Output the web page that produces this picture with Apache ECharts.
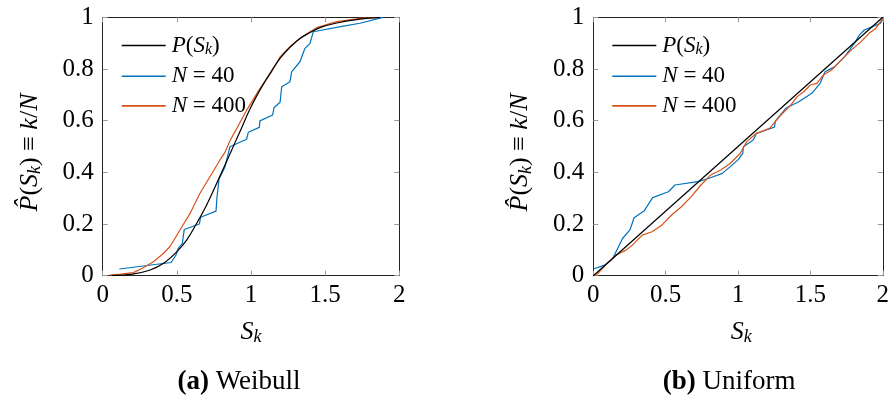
<!DOCTYPE html>
<html>
<head>
<meta charset="utf-8">
<script src="https://cdn.jsdelivr.net/npm/echarts@6/dist/echarts.min.js"></script>
<style>
html,body{margin:0;padding:0;background:#fff;}
#c{width:892px;height:403px;}
</style>
</head>
<body>
<div id="c"></div>
<script>
// ---- data ----
const xTicks = [0, 0.5, 1, 1.5, 2];
const yTicks = [0, 0.2, 0.4, 0.6, 0.8, 1];
const seriesNames = ['P(S_k)', 'N = 40', 'N = 400'];
const captions = ['(a)|Weibull', '(b)|Uniform'];

// (a) Weibull
const weibullP = [[0.06,0],[0.2,0.006],[0.32,0.022],[0.41,0.048],[0.5,0.093],[0.566,0.138],[0.634,0.203],[0.70,0.273],[0.768,0.357],[0.836,0.443],[0.892,0.515],[0.926,0.558],[0.993,0.645],[1.061,0.719],[1.128,0.783],[1.196,0.841],[1.263,0.884],[1.33,0.918],[1.398,0.941],[1.465,0.96],[1.578,0.978],[1.735,0.993],[1.87,1.0]];
const weibull40 = [[0.112,0.026],[0.461,0.051],[0.494,0.08],[0.51,0.106],[0.537,0.125],[0.543,0.151],[0.55,0.179],[0.652,0.2],[0.66,0.226],[0.764,0.25],[0.770,0.30],[0.784,0.373],[0.825,0.422],[0.858,0.499],[0.97,0.528],[0.982,0.555],[1.056,0.574],[1.06,0.599],[1.146,0.622],[1.155,0.65],[1.196,0.671],[1.207,0.731],[1.263,0.751],[1.274,0.789],[1.33,0.828],[1.364,0.88],[1.398,0.899],[1.42,0.944],[1.432,0.948],[1.623,0.966],[1.735,0.977],[1.89,1.0]];
const weibull400 = [[0.05,0.002],[0.12,0.006],[0.207,0.012],[0.274,0.031],[0.342,0.054],[0.409,0.086],[0.454,0.113],[0.521,0.177],[0.589,0.241],[0.656,0.319],[0.723,0.383],[0.791,0.448],[0.825,0.478],[0.858,0.522],[0.904,0.57],[0.971,0.641],[1.061,0.725],[1.14,0.79],[1.196,0.847],[1.263,0.886],[1.33,0.918],[1.398,0.944],[1.443,0.96],[1.578,0.983],[1.735,0.996],[1.85,1.0]];

// (b) Uniform
const uniformP = [[0,0],[2,1]];
const uniform40 = [[0,0.026],[0.079,0.041],[0.135,0.067],[0.169,0.106],[0.203,0.145],[0.253,0.177],[0.282,0.224],[0.35,0.25],[0.41,0.302],[0.519,0.325],[0.564,0.351],[0.722,0.364],[0.801,0.377],[0.891,0.396],[0.947,0.422],[1.003,0.45],[1.033,0.473],[1.037,0.499],[1.105,0.525],[1.128,0.551],[1.195,0.564],[1.252,0.575],[1.258,0.598],[1.33,0.648],[1.42,0.673],[1.51,0.706],[1.567,0.744],[1.601,0.789],[1.669,0.809],[1.737,0.848],[1.804,0.899],[1.838,0.931],[1.872,0.951],[1.928,0.964],[1.985,0.977],[2.0,0.992]];
const uniform400 = [[0,0],[0.022,0.003],[0.05,0.02],[0.09,0.045],[0.124,0.062],[0.158,0.08],[0.226,0.099],[0.271,0.119],[0.338,0.157],[0.406,0.17],[0.474,0.196],[0.541,0.235],[0.609,0.267],[0.677,0.306],[0.744,0.351],[0.812,0.39],[0.88,0.409],[0.947,0.435],[1.015,0.473],[1.06,0.519],[1.128,0.551],[1.218,0.57],[1.285,0.615],[1.364,0.66],[1.409,0.693],[1.454,0.712],[1.5,0.738],[1.545,0.744],[1.59,0.777],[1.646,0.796],[1.714,0.835],[1.782,0.873],[1.85,0.906],[1.906,0.938],[1.951,0.957],[1.985,0.983],[2.0,0.996]];

// ---- styling ----
const SERIF = 'Liberation Serif';
const FS = 25;
const COLORS = ['#000000', '#0072BD', '#D95319'];
const rich = {
  it: {fontFamily: SERIF, fontStyle: 'italic', fontSize: 23, color: '#000'},
  rm: {fontFamily: SERIF, fontSize: 23, color: '#000'},
  sub: {fontFamily: SERIF, fontStyle: 'italic', fontSize: 16, color: '#000', padding: [9, 0, 0, 0]}
};
function legendText(name) {
  if (name === 'P(S_k)') return '{it|P}{rm|(}{it|S}{sub|k}{rm|)}';
  const parts = name.split(' = ');
  return '{it|' + parts[0] + '}{rm| = ' + parts[1] + '}';
}

const grids = [
  {left: 102.7, top: 17.3, width: 296.6, height: 258.4},
  {left: 593.3, top: 17.3, width: 295.7, height: 258.4}
];

const xAxes = [], yAxes = [];
grids.forEach((g, i) => {
  const base = {
    type: 'value', gridIndex: i, min: 0, max: 2, interval: 0.5,
    axisLine: {show: true, onZero: false, lineStyle: {color: '#222', width: 1}},
    axisTick: {show: true, inside: true, length: 5, lineStyle: {color: '#999', width: 1}},
    splitLine: {show: false}
  };
  xAxes.push(Object.assign({}, base, {position: 'bottom',
    axisLabel: {show: true, margin: 7, fontFamily: SERIF, fontSize: FS, color: '#000',
      formatter: v => xTicks.includes(v) ? String(v) : ''}}));
  xAxes.push(Object.assign({}, base, {position: 'top', axisLabel: {show: false}}));
  const ybase = {
    type: 'value', gridIndex: i, min: 0, max: 1, interval: 0.2,
    axisLine: {show: true, onZero: false, lineStyle: {color: '#222', width: 1}},
    axisTick: {show: true, inside: true, length: 5, lineStyle: {color: '#999', width: 1}},
    splitLine: {show: false}
  };
  yAxes.push(Object.assign({}, ybase, {position: 'left',
    axisLabel: {show: true, margin: 9, fontFamily: SERIF, fontSize: FS, color: '#000',
      formatter: v => { const t = yTicks.find(k => Math.abs(k - v) < 1e-9); return t === undefined ? '' : String(t); }}}));
  yAxes.push(Object.assign({}, ybase, {position: 'right', axisLabel: {show: false}}));
});

const sets = [[weibullP, weibull40, weibull400], [uniformP, uniform40, uniform400]];
const series = [];
sets.forEach((set, gi) => {
  set.forEach((d, si) => {
    series.push({
      type: 'line', name: seriesNames[si], data: d,
      xAxisIndex: gi * 2, yAxisIndex: gi * 2,
      showSymbol: false, symbol: 'none',
      smooth: (si === 0 && gi === 0) ? 0.4 : false,
      lineStyle: {color: COLORS[si], width: 1.2},
      itemStyle: {color: COLORS[si]},
      z: si === 0 ? 3 : 2
    });
  });
});

const legends = grids.map(g => ({
  orient: 'vertical', left: g.left + 19, top: 34, padding: 0,
  itemWidth: 44, itemHeight: 1.6, itemGap: 6.7, icon: 'rect',
  data: seriesNames,
  selectedMode: false,
  formatter: legendText,
  textStyle: {fontFamily: SERIF, fontSize: 23, lineHeight: 20, padding: [0, 0, 0, 1], rich: rich}
}));

const yLabelRich = {
  it: {fontFamily: SERIF, fontStyle: 'italic', fontSize: 26, color: '#000'},
  rm: {fontFamily: SERIF, fontSize: 26, color: '#000'},
  sub: {fontFamily: SERIF, fontStyle: 'italic', fontSize: 18, color: '#000', padding: [11, 0, 0, 0]}
};
const yLabelText = '{it|P\u0302}{rm|(}{it|S}{sub|k}{rm|) \u2261 }{it|k}{rm|/}{it|N}';
const xLabelText = '{it|S}{sub|k}';
const capRich = {
  b: {fontFamily: SERIF, fontWeight: 'bold', fontSize: 27, color: '#000'},
  r: {fontFamily: SERIF, fontSize: 27, color: '#000'}
};
const graphic = [];
grids.forEach((g, i) => {
  const cx = g.left + g.width / 2;
  graphic.push({type: 'text', x: g.left - 73, y: g.top + g.height / 2 + 6, rotation: Math.PI / 2,
    style: {text: yLabelText, rich: yLabelRich, align: 'center', verticalAlign: 'middle'}});
  graphic.push({type: 'text', x: cx, y: 332,
    style: {text: xLabelText, rich: yLabelRich, align: 'center', verticalAlign: 'middle'}});
  const cp = captions[i].split('|');
  graphic.push({type: 'text', x: cx - 12, y: 382,
    style: {text: '{b|' + cp[0] + '}{r| ' + cp[1] + '}', rich: capRich, align: 'center', verticalAlign: 'middle'}});
});

const chart = echarts.init(document.getElementById('c'), null, {renderer: 'canvas'});
chart.setOption({
  animation: false,
  backgroundColor: '#fff',
  grid: grids,
  xAxis: xAxes,
  yAxis: yAxes,
  legend: legends,
  series: series,
  graphic: graphic
});
</script>
</body>
</html>
